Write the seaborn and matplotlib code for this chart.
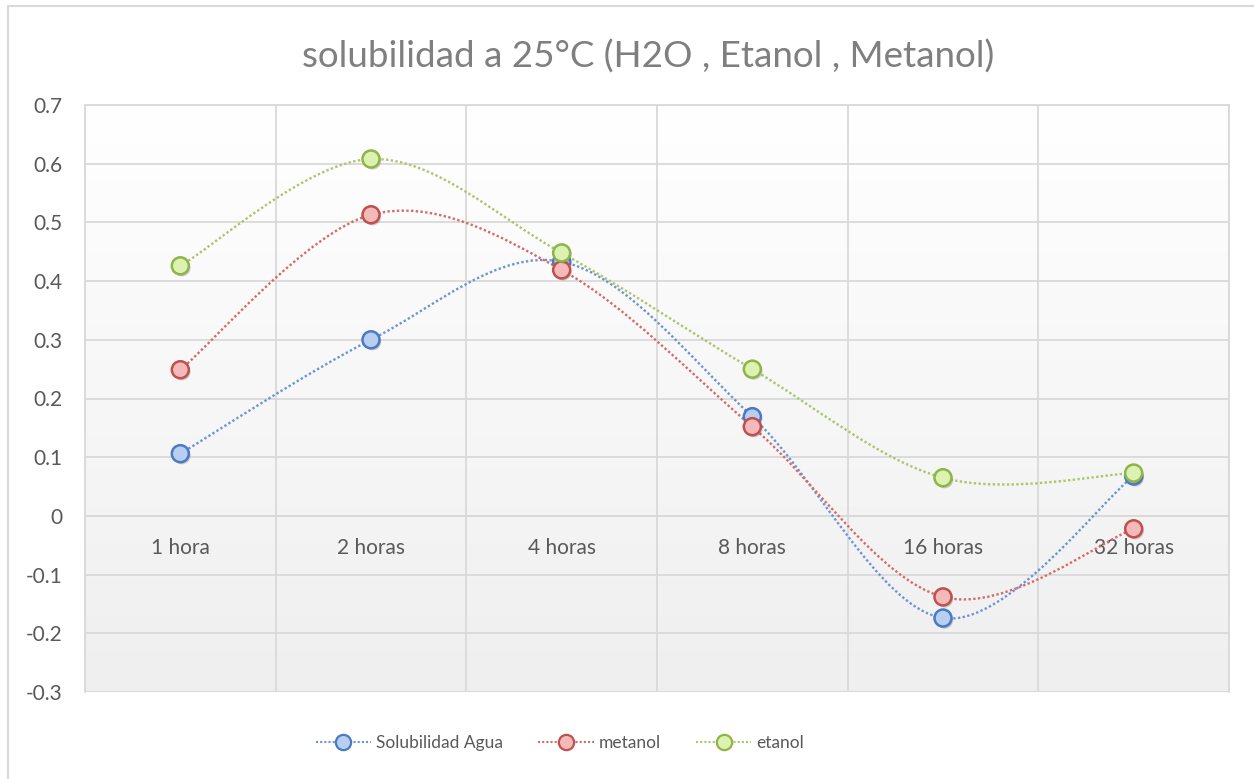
import numpy as np
import matplotlib
matplotlib.use("Agg")
import matplotlib.pyplot as plt
import seaborn as sns
from matplotlib.path import Path
from matplotlib.patches import PathPatch, Rectangle
from matplotlib.lines import Line2D
import matplotlib.patheffects as pe

categories = ["1 hora", "2 horas", "4 horas", "8 horas", "16 horas", "32 horas"]
agua = [0.106, 0.300, 0.433, 0.169, -0.174, 0.068]
metanol = [0.249, 0.513, 0.419, 0.152, -0.138, -0.022]
etanol = [0.426, 0.608, 0.448, 0.250, 0.065, 0.073]
series_names = ["Solubilidad Agua", "metanol", "etanol"]
y_ticks = [0.7, 0.6, 0.5, 0.4, 0.3, 0.2, 0.1, 0, -0.1, -0.2, -0.3]
y_tick_labels = ["0.7", "0.6", "0.5", "0.4", "0.3", "0.2", "0.1", "0", "-0.1", "-0.2", "-0.3"]
title = "solubilidad a 25°C (H2O , Etanol , Metanol)"

sns.set_theme(style="white")
plt.rcParams['font.family'] = ['Lato', 'DejaVu Sans']

W, H = 1254, 779
fig = plt.figure(figsize=(W / 100, H / 100), dpi=100)
ax = fig.add_axes([85 / W, 1 - 692 / H, (1229 - 85) / W, (692 - 105) / H])

# gradient background of the plot area
grad = np.linspace(1.0, 0.937, 256).reshape(-1, 1)
ax.imshow(np.dstack([grad, grad, grad]), extent=[0, 1, 0, 1], transform=ax.transAxes,
          aspect="auto", zorder=0, interpolation="bicubic")

styles = [
    dict(line="#6a94d4", edge="#4a7ac2", fill="#b8cff2"),
    dict(line="#d46a6a", edge="#c0504d", fill="#f6b9b9"),
    dict(line="#a9c66b", edge="#8fb44a", fill="#dcf2b0"),
]
data = [agua, metanol, etanol]
xs = np.arange(len(categories), dtype=float)


def smooth_path(x, y):
    pts = np.column_stack([x, y])
    n = len(pts)
    verts = [pts[0]]
    codes = [Path.MOVETO]
    for i in range(n - 1):
        p0 = pts[max(i - 1, 0)]
        p1 = pts[i]
        p2 = pts[i + 1]
        p3 = pts[min(i + 2, n - 1)]
        c1 = p1 + (p2 - p0) / 6.0
        c2 = p2 - (p3 - p1) / 6.0
        verts += [c1, c2, p2]
        codes += [Path.CURVE4] * 3
    return Path(verts, codes)


for vals, st, name in zip(data, styles, series_names):
    patch = PathPatch(smooth_path(xs, np.array(vals)), facecolor="none", edgecolor=st["line"],
                      lw=1.7, linestyle=(0, (1, 1)), zorder=3)
    ax.add_patch(patch)

for vals, st, name in zip(data, styles, series_names):
    sns.scatterplot(x=xs, y=vals, ax=ax, s=150, color=st["fill"], edgecolor=st["edge"],
                    linewidth=1.8, zorder=4, legend=False,
                    path_effects=[pe.SimplePatchShadow(offset=(1.2, -1.5), alpha=0.25), pe.Normal()])

ax.set_xlim(-0.5, len(categories) - 0.5)
ax.set_ylim(-0.3, 0.7)
ax.set_yticks(y_ticks)
ax.set_yticklabels(y_tick_labels)
ax.set_xticks(xs)
ax.set_xticklabels(categories)
ax.set_xticks(np.arange(-0.5, len(categories), 1.0), minor=True)

grid_c = "#d9d9d9"
ax.grid(True, axis="y", which="major", color=grid_c, lw=1.3, zorder=1)
ax.grid(True, axis="x", which="minor", color=grid_c, lw=1.3, zorder=1)
ax.grid(False, axis="x", which="major")
ax.set_axisbelow(True)

for s in ["top", "left", "right"]:
    ax.spines[s].set_color(grid_c)
    ax.spines[s].set_linewidth(1.3)
ax.spines["bottom"].set_position(("data", 0))
ax.spines["bottom"].set_color(grid_c)
ax.spines["bottom"].set_linewidth(1.3)
ax.tick_params(axis="both", which="both", length=0)
ax.tick_params(axis="x", pad=16, labelsize=15, colors="#595959")
ax.tick_params(axis="y", pad=16, labelsize=15, colors="#595959")
# bottom border of plot area
ax.axhline(-0.3, color=grid_c, lw=1.3, zorder=1)

fig.text(648 / W, 1 - 57 / H, title, ha="center", va="center", fontsize=26.5, color="#7f7f7f")

handles = [Line2D([0], [0], color=st["line"], lw=1.5, linestyle=(0, (1, 1)), marker="o",
                  markersize=11, markerfacecolor=st["fill"], markeredgecolor=st["edge"],
                  markeredgewidth=1.6) for st in styles]
fig.legend(handles, series_names, loc="center", bbox_to_anchor=(560 / W, 1 - 743 / H), ncol=3,
           frameon=False, fontsize=12.5, handlelength=3.2, columnspacing=2.0, handletextpad=0.3,
           labelcolor="#595959")

# chart border (top and left visible)
fig.patches.append(Rectangle((8 / W, -0.1), 1.2, 1 - 6 / H + 0.1, transform=fig.transFigure,
                             fill=False, edgecolor="#d9d9d9", lw=1.5))

fig.savefig("out.png", dpi=100, facecolor="white")
